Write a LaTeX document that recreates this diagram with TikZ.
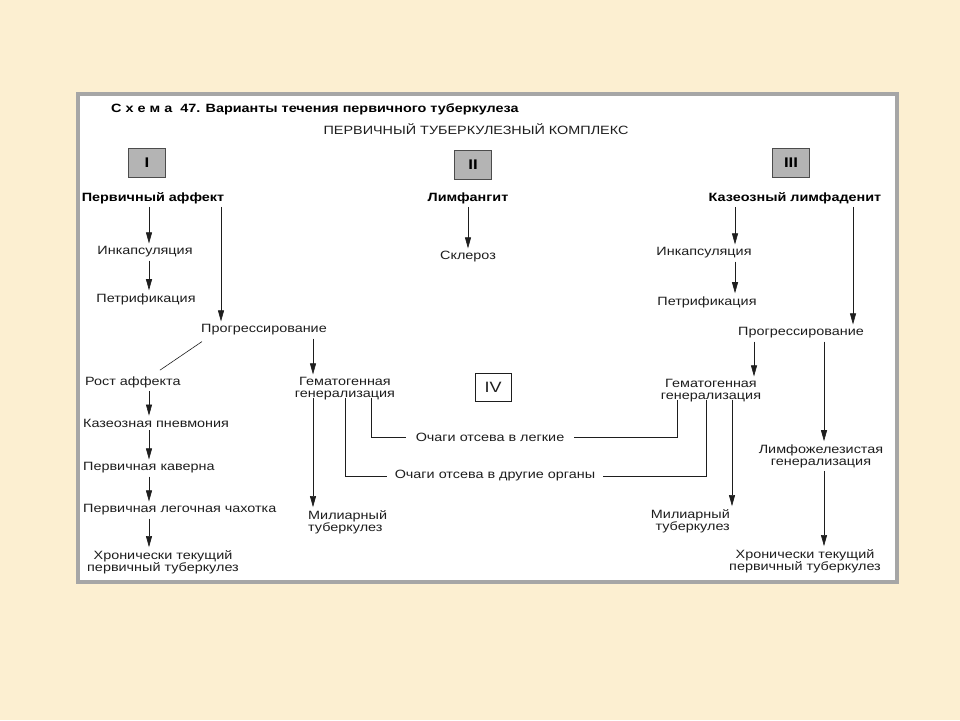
\documentclass[tikz,border=0pt]{standalone}
\usepackage{fontspec}
\setmainfont{Liberation Sans}[FakeStretch=1.2]
\usetikzlibrary{positioning, calc, arrows.meta}
\definecolor{paper}{HTML}{FCEFD1}
\definecolor{frame}{HTML}{A6A6A6}
\definecolor{ink}{HTML}{1E1E1E}
\definecolor{boxgrey}{HTML}{B4B4B4}
\tikzstyle{Arrow} = [
    draw = ink,
    line width = 0.6pt,
    -{Triangle[length=11pt, width=6pt]}
]
\tikzstyle{Line} = [
    draw = ink,
    line width = 0.6pt
]

\begin{document}
\begin{tikzpicture}[
x = 1pt, y = -1pt,
txt/.style = {
    inner sep = 3pt,
    text = ink,
    align = center,
    font = \fontsize{12}{12}\selectfont
    },
heading/.style = {
    txt,
    text = black,
    font = \bfseries\fontsize{12}{12}\selectfont
    },
numbox/.style = {
    draw = black!70,
    fill = boxgrey,
    line width = 0.8pt,
    minimum width = 37pt,
    minimum height = 29pt,
    font = \bfseries\fontsize{14}{14}\selectfont
    }
]

% background and frame
\fill[paper] (0,0) rectangle (960,720);
\draw[frame, fill = white, line width = 4pt] (78,94) rectangle (897,582);
\useasboundingbox (0,0) rectangle (960,720);

% titles
\node[heading, anchor = west] (title) at (108,109)
    {С х е м а\ \ 47. Варианты течения первичного туберкулеза};
\node[txt] (complex) at (476,129) {ПЕРВИЧНЫЙ ТУБЕРКУЛЕЗНЫЙ КОМПЛЕКС};

% numbered boxes
\node[numbox] (n1) at (147,163) {I};
\node[numbox] (n2) at (473,165) {II};
\node[numbox] (n3) at (791,163) {III};
\node[draw = ink, fill = white, line width = 0.6pt, minimum width = 36pt,
    minimum height = 28pt, font = \fontsize{15}{15}\selectfont, text = ink]
    (n4) at (493,387) {IV};

% column I
\node[heading] (aff) at (153,198) {Первичный аффект};
\node[txt] (inc1) at (145,252) {Инкапсуляция};
\node[txt] (pet1) at (146,299) {Петрификация};
\node[txt] (prog1) at (264,330) {Прогрессирование};
\node[txt, anchor = west] (rost) at (82,382) {Рост аффекта};
\node[txt, anchor = west] (kaz) at (80,423) {Казеозная пневмония};
\node[txt, anchor = west] (kav) at (80,468) {Первичная каверна};
\node[txt, anchor = west] (chah) at (80,510) {Первичная легочная чахотка};
\node[txt] (chron1) at (163,562) {Хронически текущий\\первичный туберкулез};
\node[txt] (gem1) at (345,389) {Гематогенная\\генерализация};
\node[txt, align = left, anchor = west] (mil1) at (305,522)
    {Милиарный\\туберкулез};

% column II
\node[heading] (limfang) at (468,198) {Лимфангит};
\node[txt] (skl) at (468,257) {Склероз};

% column III
\node[heading] (kaslim) at (795,198) {Казеозный лимфаденит};
\node[txt] (inc3) at (704,253) {Инкапсуляция};
\node[txt] (pet3) at (707,302) {Петрификация};
\node[txt] (prog3) at (801,333) {Прогрессирование};
\node[txt] (gem2) at (711,391) {Гематогенная\\генерализация};
\node[txt, align = right, anchor = east] (mil2) at (733,521)
    {Милиарный\\туберкулез};
\node[txt] (limf) at (821,456) {Лимфожелезистая\\генерализация};
\node[txt] (chron3) at (805,561) {Хронически текущий\\первичный туберкулез};

% foci in the middle
\node[txt] (lungs) at (490,437) {Очаги отсева в легкие};
\node[txt] (organs) at (495,476) {Очаги отсева в другие органы};

% column lines
\coordinate (c1) at (149,0);
\coordinate (c1p) at (221,0);
\coordinate (c1g) at (313,0);
\coordinate (c2) at (468,0);
\coordinate (c3) at (735,0);
\coordinate (c3p) at (853,0);
\coordinate (c3g) at (754,0);
\coordinate (c3l) at (824,0);
\coordinate (c3m) at (732,0);

\draw[Arrow] (aff.south -| c1) -- (inc1.north -| c1);
\draw[Arrow] (inc1.south -| c1) -- (pet1.north -| c1);
\draw[Arrow] (aff.south -| c1p) -- (prog1.north -| c1p);
\draw[Line] ([xshift=4pt, yshift=-3pt]prog1.south west) -- ([xshift=27pt, yshift=3pt]rost.north);
\draw[Arrow] (prog1.south -| c1g) -- (gem1.north -| c1g);
\draw[Arrow] (rost.south -| c1) -- (kaz.north -| c1);
\draw[Arrow] (kaz.south -| c1) -- (kav.north -| c1);
\draw[Arrow] (kav.south -| c1) -- (chah.north -| c1);
\draw[Arrow] (chah.south -| c1) -- (chron1.north -| c1);
\draw[Arrow] ([yshift=6pt]gem1.south -| c1g) -- (mil1.north -| c1g);

\draw[Arrow] (limfang.south -| c2) -- (skl.north -| c2);

\draw[Arrow] (kaslim.south -| c3) -- (inc3.north -| c3);
\draw[Arrow] (inc3.south -| c3) -- (pet3.north -| c3);
\draw[Arrow] (kaslim.south -| c3p) -- (prog3.north -| c3p);
\draw[Arrow] (prog3.south -| c3g) -- (gem2.north -| c3g);
\draw[Arrow] (prog3.south -| c3l) -- (limf.north -| c3l);
\draw[Arrow] (limf.south -| c3l) -- (chron3.north -| c3l);
\draw[Arrow] ([yshift=6pt]gem2.south -| c3m) -- (mil2.north -| c3m);

\draw[Line] ([xshift=26pt, yshift=6pt]gem1.south) |- ([xshift=-7pt]lungs.west);
\draw[Line] ([xshift=7pt]lungs.east) -| ([xshift=-34pt, yshift=6pt]gem2.south);
\draw[Line] ([yshift=6pt]gem1.south) |- ([xshift=-5pt]organs.west);
\draw[Line] ([xshift=5pt]organs.east) -| ([xshift=-5pt, yshift=6pt]gem2.south);

\end{tikzpicture}
\end{document}
